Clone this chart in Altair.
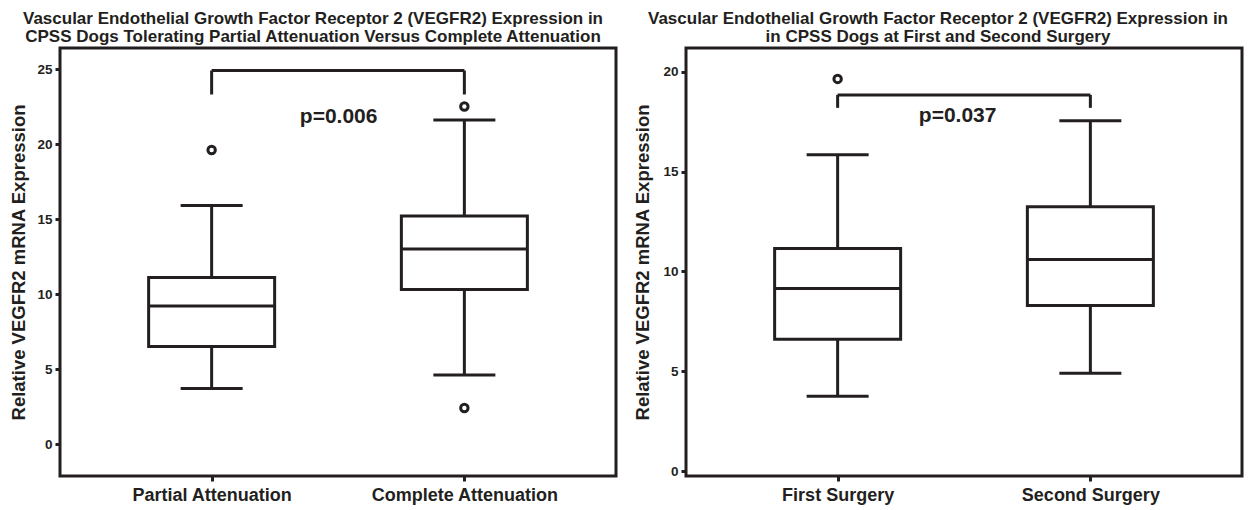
import altair as alt
import pandas as pd

INK = "#231f20"
FONT = "Liberation Sans"

# Panel 1
cats1 = ["Partial Attenuation", "Complete Attenuation"]
min1 = [3.7, 4.6]
q1_1 = [6.5, 10.3]
med1 = [9.2, 13.0]
q3_1 = [11.1, 15.2]
max1 = [15.9, 21.6]
out1_cat = ["Partial Attenuation", "Complete Attenuation", "Complete Attenuation"]
out1_val = [19.6, 22.5, 2.4]
bracket1_top = 24.9
bracket1_leg = 23.3
p1_text = "p=0.006"
p1_y = 21.8

# Panel 2
cats2 = ["First Surgery", "Second Surgery"]
min2 = [3.75, 4.9]
q1_2 = [6.6, 8.3]
med2 = [9.15, 10.6]
q3_2 = [11.15, 13.25]
max2 = [15.85, 17.55]
out2_cat = ["First Surgery"]
out2_val = [19.65]
bracket2_top = 18.85
bracket2_leg = 18.2
p2_text = "p=0.037"
p2_y = 17.8

yticks1 = [0, 5, 10, 15, 20, 25]
yticks2 = [0, 5, 10, 15, 20]


def panel(cats, mins, q1s, meds, q3s, maxs, ocat, oval, btop, bleg, ptext, py,
          ydomain, yticks, title, dx, title_pad):
    box = pd.DataFrame({"cat": cats, "lo": mins, "q1": q1s, "med": meds, "q3": q3s, "hi": maxs})
    outl = pd.DataFrame({"cat": ocat, "v": oval})
    br = pd.DataFrame({"c1": [cats[0]], "c2": [cats[1]], "top": [btop]})
    legs = pd.DataFrame({"cat": cats, "top": [btop, btop], "leg": [bleg, bleg]})
    ptx = pd.DataFrame({"cat": [cats[0]], "y": [py], "t": [ptext]})

    xscale = alt.Scale(type="point", padding=0.6, domain=cats)
    xenc = alt.X("cat:N", title=None, scale=xscale,
                 axis=alt.Axis(labelAngle=0, labelFont=FONT, labelFontSize=18,
                               labelFontWeight="bold", labelColor=INK, labelPadding=5,
                               labelLimit=400,
                               tickColor=INK, tickWidth=3, tickSize=5, domain=False,
                               grid=False))
    yscale = alt.Scale(domain=ydomain, zero=False, nice=False)
    yaxis = alt.Axis(values=yticks, title="Relative VEGFR2 mRNA Expression",
                     titleFont=FONT, titleFontSize=18.5, titleFontWeight="bold",
                     titleColor=INK, titlePadding=title_pad,
                     labelFont=FONT, labelFontSize=13.5, labelFontWeight="bold",
                     labelColor=INK, labelPadding=3, tickColor=INK, tickWidth=3,
                     tickSize=5, domain=False, grid=False)

    base = alt.Chart(box)
    whisk = base.mark_rule(color=INK, strokeWidth=3).encode(
        x=xenc, y=alt.Y("lo:Q", scale=yscale, axis=yaxis), y2="hi:Q")
    rect = base.mark_bar(size=126, fill="white", stroke=INK, strokeWidth=3).encode(
        x=alt.X("cat:N", scale=xscale), y="q1:Q", y2="q3:Q")
    medt = base.mark_tick(size=126, thickness=3, color=INK, opacity=1).encode(
        x=alt.X("cat:N", scale=xscale), y="med:Q")
    capl = base.mark_tick(size=62, thickness=3, color=INK, opacity=1).encode(
        x=alt.X("cat:N", scale=xscale), y="lo:Q")
    caph = base.mark_tick(size=62, thickness=3, color=INK, opacity=1).encode(
        x=alt.X("cat:N", scale=xscale), y="hi:Q")
    pts = alt.Chart(outl).mark_point(shape="circle", size=55, filled=False,
                                     strokeWidth=3, color=INK, opacity=1).encode(
        x=alt.X("cat:N", scale=xscale), y="v:Q")
    brh = alt.Chart(br).mark_rule(color=INK, strokeWidth=3).encode(
        x=alt.X("c1:N", scale=xscale), x2="c2:N", y="top:Q")
    brl = alt.Chart(legs).mark_rule(color=INK, strokeWidth=3).encode(
        x=alt.X("cat:N", scale=xscale), y="top:Q", y2="leg:Q")
    txt = alt.Chart(ptx).mark_text(font=FONT, fontSize=21, fontWeight="bold",
                                   color=INK, dx=dx, baseline="middle").encode(
        x=alt.X("cat:N", scale=xscale), y="y:Q", text="t:N")

    return alt.layer(whisk, rect, medt, capl, caph, pts, brh, brl, txt).properties(
        width=556, height=428,
        title=alt.TitleParams(title, font=FONT, fontSize=17, fontWeight="bold",
                              color=INK, anchor="middle", frame="bounds",
                              offset=2, lineHeight=18.5))


left = panel(cats1, min1, q1_1, med1, q3_1, max1, out1_cat, out1_val,
             bracket1_top, bracket1_leg, p1_text, p1_y, [-2.13, 26.4], yticks1,
             ["Vascular Endothelial Growth Factor Receptor 2 (VEGFR2) Expression in",
              "CPSS Dogs Tolerating Partial Attenuation Versus Complete Attenuation"],
             127, 8)
right = panel(cats2, min2, q1_2, med2, q3_2, max2, out2_cat, out2_val,
              bracket2_top, bracket2_leg, p2_text, p2_y, [-0.25, 21.2], yticks2,
              ["Vascular Endothelial Growth Factor Receptor 2 (VEGFR2) Expression in",
               "in CPSS Dogs at First and Second Surgery"],
              120, 10)

chart = alt.hconcat(left, right, spacing=14).properties(
    padding={"left": 0, "top": 0, "right": 0, "bottom": 0},
    background="white"
).configure_view(stroke=INK, strokeWidth=3)

chart.save("out.html", embed_options={"renderer": "svg", "actions": False})
